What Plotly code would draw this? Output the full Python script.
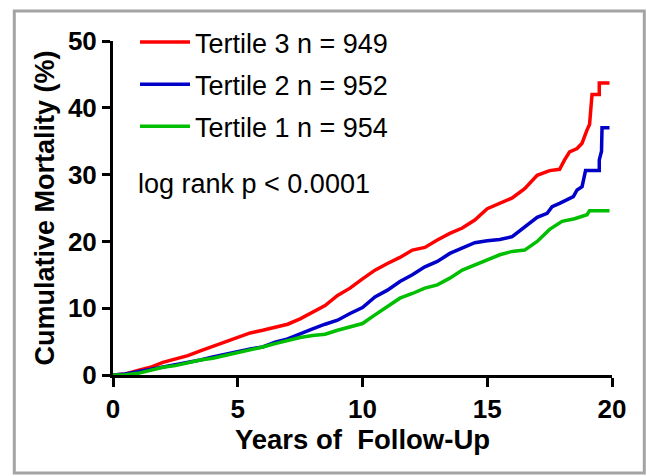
import plotly.graph_objects as go

# ---- data ----
names = ["Tertile 3 n = 949", "Tertile 2 n = 952", "Tertile 1 n = 954"]

t3_years = [0, 0.5, 1, 1.5, 2, 2.5, 3, 3.5, 4, 4.5, 5, 5.5, 6, 6.5, 7, 7.5, 8, 8.5, 9, 9.5,
            10, 10.5, 11, 11.5, 12, 12.5, 13, 13.5, 14, 14.5, 15, 15.5, 16, 16.5, 17, 17.5,
            17.9, 18.1, 18.3, 18.6, 18.8, 19.0, 19.1, 19.2, 19.49, 19.49, 19.9]
t3_mort = [0, 0.15, 0.7, 1.15, 1.9, 2.35, 2.9, 3.6, 4.3, 5.0, 5.7, 6.3, 6.7, 7.1, 7.6, 8.4, 9.4, 10.4, 11.9, 13.0,
           14.4, 15.7, 16.7, 17.6, 18.7, 19.1, 20.2, 21.2, 22.0, 23.2, 24.9, 25.7, 26.5, 27.9, 29.9, 30.6,
           30.8, 32.2, 33.4, 33.9, 34.7, 36.7, 37.5, 42.0, 42.0, 43.7, 43.7]

t2_years = [0, 0.5, 1, 1.5, 2, 2.5, 3, 3.5, 4, 4.5, 5, 5.5, 6, 6.5, 7, 7.5, 8, 8.5, 9, 9.5,
            10, 10.5, 11, 11.5, 12, 12.5, 13, 13.5, 14, 14.5, 15, 15.5, 16, 16.5, 17, 17.4, 17.6,
            17.9, 18.2, 18.45, 18.6, 18.8, 18.94, 19.49, 19.49, 19.58, 19.6, 19.9]
t2_mort = [0, 0.15, 0.5, 0.85, 1.15, 1.5, 1.8, 2.25, 2.7, 3.1, 3.6, 3.9, 4.2, 4.9, 5.4, 6.2, 6.9, 7.6, 8.2, 9.2,
           10.1, 11.7, 12.7, 14.0, 15.0, 16.2, 17.0, 18.2, 19.0, 19.8, 20.1, 20.3, 20.7, 22.2, 23.6, 24.2, 25.2,
           25.7, 26.2, 26.7, 27.7, 28.2, 30.6, 30.6, 32.2, 33.5, 37.0, 37.0]

t1_years = [0, 0.5, 1, 1.5, 2, 2.5, 3, 3.5, 4, 4.5, 5, 5.5, 6, 6.5, 7, 7.5, 8, 8.5, 9, 9.5,
            10, 10.5, 11, 11.5, 12, 12.5, 13, 13.5, 14, 14.5, 15, 15.5, 16, 16.5, 17, 17.5, 18,
            18.5, 19.0, 19.1, 19.9]
t1_mort = [0, 0.05, 0.25, 0.75, 1.15, 1.4, 1.8, 2.25, 2.5, 2.9, 3.3, 3.7, 4.2, 4.7, 5.2, 5.6, 5.9, 6.1, 6.7, 7.2,
           7.7, 9.0, 10.2, 11.5, 12.2, 13.0, 13.5, 14.5, 15.7, 16.5, 17.3, 18.0, 18.5, 18.7, 20.0, 21.8, 23.0,
           23.4, 24.0, 24.6, 24.6]

x_ticks = [0, 5, 10, 15, 20]
y_ticks = [0, 10, 20, 30, 40, 50]

colors = ["#ff0000", "#0000c8", "#00be00"]

FONT = "Arial, Liberation Sans, Helvetica, sans-serif"

# plot-area geometry in pixels
L, R, T, B = 113, 612, 41, 375
W, H = R - L, B - T


def px(xp):
    return (xp - L) / W


def py(yp):
    return (B - yp) / H


fig = go.Figure()
for i, (xs, ys) in enumerate([(t3_years, t3_mort), (t2_years, t2_mort), (t1_years, t1_mort)]):
    fig.add_trace(go.Scatter(
        x=xs, y=ys, mode="lines", name=names[i],
        line=dict(color=colors[i], width=3.5),
        legendgroup=f"g{i}",
    ))

fig.update_layout(
    width=647, height=476,
    margin=dict(l=L, r=647 - R, t=T, b=476 - B, autoexpand=False),
    paper_bgcolor="white", plot_bgcolor="white",
    font=dict(family=FONT, color="black"),
    showlegend=True,
    legend=dict(
        x=px(135), y=py(18), xanchor="left", yanchor="top",
        font=dict(family=FONT, size=27, color="black"),
        bgcolor="rgba(0,0,0,0)", borderwidth=0,
        traceorder="grouped", tracegroupgap=4,
        itemwidth=50,
    ),
    xaxis=dict(
        range=[0, 20], tickvals=x_ticks, ticktext=[str(v) for v in x_ticks],
        showgrid=False, zeroline=False, automargin=False,
        showline=True, linecolor="black", linewidth=3,
        ticks="outside", ticklen=9, tickwidth=3, tickcolor="black",
        tickfont=dict(family=FONT, size=26, color="black", weight="bold"),
        title=dict(text="Years of\u00a0 Follow-Up", standoff=6,
                   font=dict(family=FONT, size=27.5, color="black", weight="bold")),
    ),
    yaxis=dict(
        range=[0, 50], tickvals=y_ticks, ticktext=[str(v) for v in y_ticks],
        showgrid=False, zeroline=False, automargin=False,
        showline=True, linecolor="black", linewidth=3,
        ticks="outside", ticklen=8, tickwidth=3, tickcolor="black",
        tickfont=dict(family=FONT, size=26, color="black", weight="bold"),
        title=dict(text="Cumulative Mortality (%)", standoff=6,
                   font=dict(family=FONT, size=27, color="black", weight="bold")),
    ),
    annotations=[dict(
        text="log rank p < 0.0001", xref="paper", yref="paper",
        x=px(136), y=py(184), xanchor="left", yanchor="middle", showarrow=False,
        font=dict(family=FONT, size=27, color="black"),
    )],
    shapes=[dict(
        type="rect", xref="paper", yref="paper",
        x0=px(14.3), x1=px(644.3), y0=py(473), y1=py(11),
        line=dict(color="#a4a4a4", width=3), fillcolor="rgba(0,0,0,0)",
        layer="below",
    )],
)

fig.write_html(
    "out.html",
    config={"displayModeBar": False},
    post_script="document.body.style.margin='0';document.body.style.overflow='hidden';",
)
